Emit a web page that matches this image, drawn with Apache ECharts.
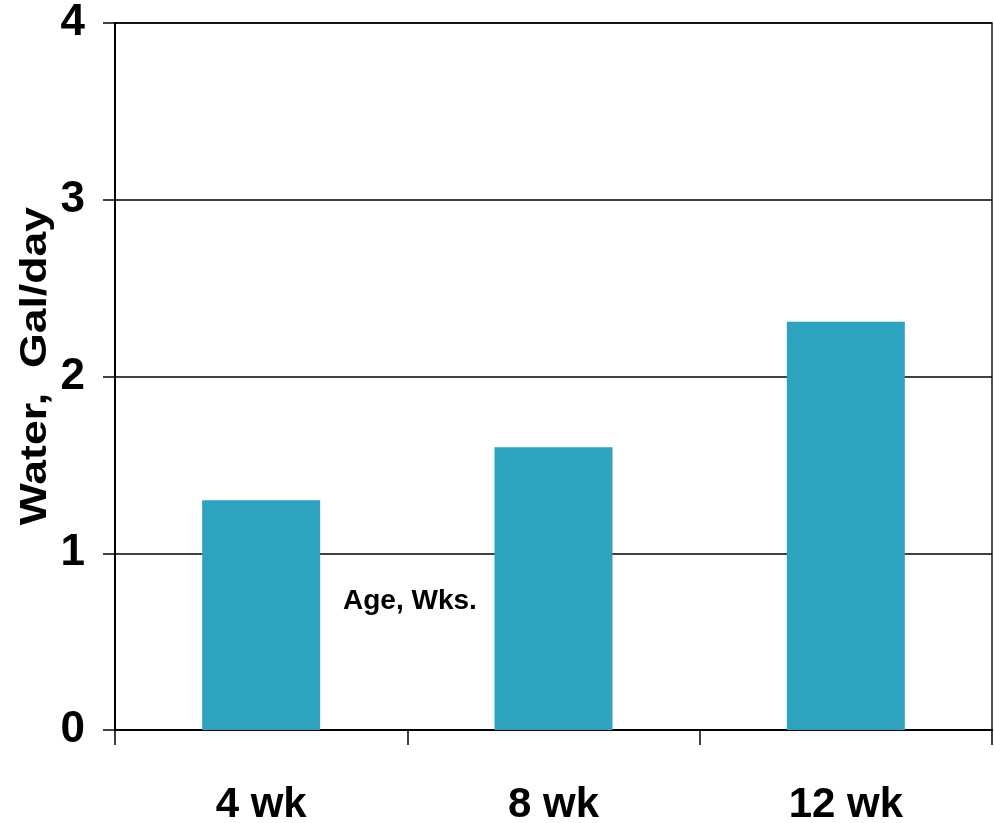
<!DOCTYPE html>
<html>
<head>
<meta charset="utf-8">
<script src="https://cdn.jsdelivr.net/npm/echarts@6/dist/echarts.min.js"></script>
<style>
html,body{margin:0;padding:0;background:#fff;}
#chart{width:994px;height:823px;}
</style>
</head>
<body>
<div id="chart"></div>
<script>
const categories = ['4 wk', '8 wk', '12 wk'];
const waterValues = [1.30, 1.60, 2.31];
const yTicks = [0, 1, 2, 3, 4];
const yTitle = 'Water,  Gal/day';
const innerLabel = 'Age, Wks.';

const narrow = '"Liberation Sans Narrow", "Arial Narrow", "Liberation Sans", Arial, sans-serif';
const sans = '"Liberation Sans", Arial, Helvetica, sans-serif';

const chart = echarts.init(document.getElementById('chart'));
chart.setOption({
  animation: false,
  backgroundColor: '#ffffff',
  grid: {
    left: 115, right: 2, top: 23, bottom: 93,
    outerBoundsMode: 'none',
    containLabel: false,
    show: true, borderColor: '#1a1a1a', borderWidth: 1.5, backgroundColor: 'transparent'
  },
  xAxis: {
    type: 'category',
    data: categories,
    axisLine: { lineStyle: { color: '#000', width: 2 } },
    axisTick: { show: true, length: 15, lineStyle: { color: '#000', width: 1.5 } },
    axisLabel: {
      color: '#000', fontFamily: narrow, fontWeight: 'bold', fontSize: 42, margin: 54
    }
  },
  yAxis: {
    type: 'value',
    min: yTicks[0], max: yTicks[yTicks.length - 1], interval: 1,
    axisLine: { show: true, lineStyle: { color: '#000', width: 2 } },
    axisTick: { show: true, length: 12, lineStyle: { color: '#000', width: 1.5 } },
    splitLine: { show: true, lineStyle: { color: '#000', width: 1.5 } },
    axisLabel: {
      color: '#000', fontFamily: narrow, fontWeight: 'bold', fontSize: 44, margin: 30
    }
  },
  graphic: [
    {
      type: 'text',
      x: 36, y: 366,
      rotation: Math.PI / 2,
      scaleX: 1.24,
      style: {
        text: yTitle,
        fontFamily: sans, fontWeight: 'bold', fontSize: 36, fill: '#000',
        textAlign: 'center', textVerticalAlign: 'middle'
      }
    },
    {
      type: 'text',
      left: 343, top: 587,
      style: {
        text: innerLabel,
        fontFamily: sans, fontWeight: 'bold', fontSize: 28, fill: '#000'
      }
    }
  ],
  series: [{
    type: 'bar',
    data: waterValues,
    barWidth: 118,
    itemStyle: { color: '#2ea3c0' }
  }]
});
</script>
</body>
</html>
